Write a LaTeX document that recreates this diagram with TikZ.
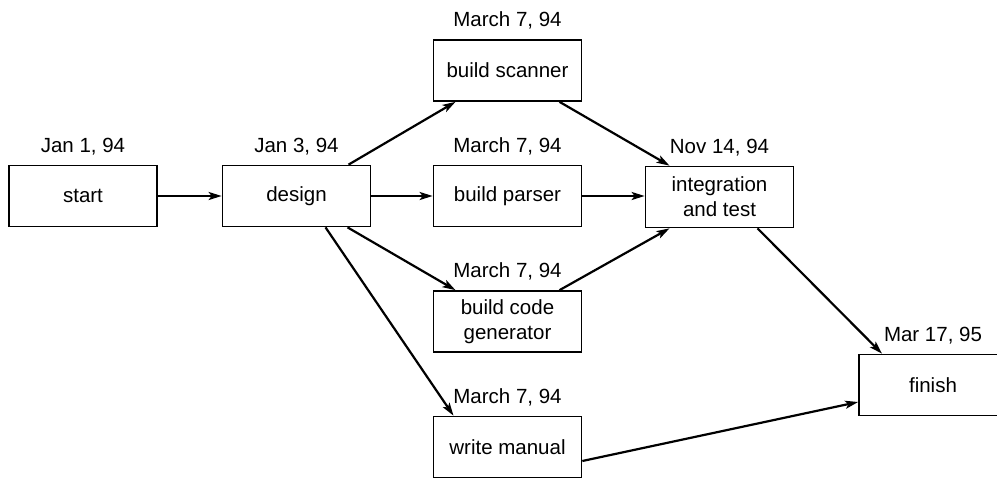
\documentclass[tikz,border=0pt]{standalone}
\usepackage{fontspec}
\setmainfont{Liberation Sans}
\usetikzlibrary{arrows.meta,calc}
\begin{document}
\begin{tikzpicture}[x=1pt,y=-1pt,
  task/.style={draw, line width=1.7pt, minimum width=148pt, minimum height=61pt,
    inner sep=0pt, align=center, font=\fontsize{20.5}{25}\selectfont},
  datelbl/.style={anchor=base, inner sep=0pt, font=\fontsize{20.5}{25}\selectfont},
  link/.style={line width=2.2pt, -{Stealth[length=13pt,width=8pt,inset=3pt]}}]
\useasboundingbox (0,0) rectangle (997,479);

% tasks
\node[task] (start)  at (83,196)    {start};
\node[task] (design) at (296.5,196) {design};
\node[task] (scan)   at (507.5,70.5)  {build scanner};
\node[task] (parse)  at (507.5,196)   {build parser};
\node[task] (codegen) at (507.5,321.5) {build code\\generator};
\node[task] (manual) at (507.5,447)   {write manual};
\node[task] (integ)  at (719.5,197)   {integration\\and test};
\node[task] (finish) at (933,385)     {finish};

% dates
\node[datelbl] (dstart)  at ([yshift=12.5pt]start.north)   {Jan 1, 94};
\node[datelbl] (ddesign) at ([yshift=12.5pt]design.north)  {Jan 3, 94};
\node[datelbl] (dscan)   at ([yshift=12.5pt]scan.north)    {March 7, 94};
\node[datelbl] (dparse)  at ([yshift=12.5pt]parse.north)   {March 7, 94};
\node[datelbl] (dcode)   at ([yshift=12.5pt]codegen.north) {March 7, 94};
\node[datelbl] (dman)    at ([yshift=12.5pt]manual.north)  {March 7, 94};
\node[datelbl] (dinteg)  at ([yshift=12.5pt]integ.north)   {Nov 14, 94};
\node[datelbl] (dfinish) at ([yshift=12.5pt]finish.north)  {Mar 17, 95};

% dependencies
\draw[link] (start.east) -- (start.east -| design.west);
\draw[link] (design.east) -- (design.east -| parse.west);
\draw[link] (parse.east) -- (parse.east -| integ.west);
\draw[link] ([xshift=52pt]design.north) -- ([xshift=-52pt]scan.south);
\draw[link] ([xshift=51pt]design.south) -- ([xshift=-52pt]codegen.north);
\draw[link] ([xshift=29pt]design.south) -- ([xshift=-54pt]manual.north);
\draw[link] ([xshift=52pt]scan.south) -- ([xshift=-50pt]integ.north);
\draw[link] ([xshift=52pt]codegen.north) -- ([xshift=-50pt]integ.south);
\draw[link] ([xshift=38pt]integ.south) -- ([xshift=-51pt]finish.north);
\draw[link] ([yshift=-14pt]manual.east) -- ([yshift=-17pt]finish.west);
\end{tikzpicture}
\end{document}
